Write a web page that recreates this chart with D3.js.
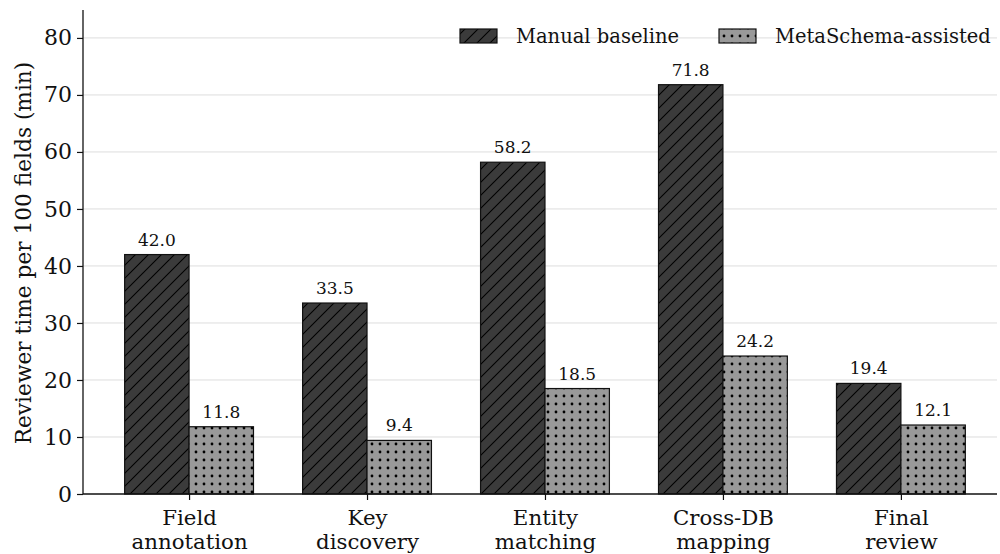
<!DOCTYPE html>
<html lang="en">
<head>
<meta charset="utf-8">
<script src="https://d3js.org/d3.v7.min.js"></script>
<style>
  body { margin: 0; background: #fff; }
  text { font-family: "DejaVu Serif", serif; fill: #111; }
</style>
</head>
<body>
<div id="chart"></div>
<script>
// data
const categories = [["Field", "annotation"], ["Key", "discovery"], ["Entity", "matching"], ["Cross-DB", "mapping"], ["Final", "review"]];
const manual = [42.0, 33.5, 58.2, 71.8, 19.4];
const assisted = [11.8, 9.4, 18.5, 24.2, 12.1];
const yTicks = [0, 10, 20, 30, 40, 50, 60, 70, 80];
const seriesNames = ["Manual baseline", "MetaSchema-assisted"];

const width = 1000, height = 554;
const margin = {left: 83, right: 3, top: 10, bottom: 60};

const svg = d3.select("#chart").append("svg")
    .attr("width", width)
    .attr("height", height);

const defs = svg.append("defs");
// diagonal hatch
const hatch = defs.append("pattern")
    .attr("id", "hatch")
    .attr("patternUnits", "userSpaceOnUse")
    .attr("width", 13).attr("height", 13);
hatch.append("rect").attr("width", 13).attr("height", 13).attr("fill", "#3b3b3b");
hatch.append("path")
    .attr("d", "M-3,3 L3,-3 M0,13 L13,0 M10,16 L16,10")
    .attr("stroke", "#000").attr("stroke-width", 1.1);
// dots
const dots = defs.append("pattern")
    .attr("id", "dots")
    .attr("patternUnits", "userSpaceOnUse")
    .attr("width", 8).attr("height", 8);
dots.append("rect").attr("width", 8).attr("height", 8).attr("fill", "#999999");
dots.append("circle").attr("cx", 4).attr("cy", 4).attr("r", 1.4).attr("fill", "#000");

const y = d3.scaleLinear().domain([0, 84.9]).range([height - margin.bottom, margin.top]);
const x = d3.scaleLinear().domain([-0.596, 4.54]).range([margin.left, width - margin.right]);
const barW = 0.362;

// grid
svg.append("g").selectAll("line").data(yTicks.slice(1)).join("line")
    .attr("x1", margin.left).attr("x2", width - margin.right)
    .attr("y1", d => y(d)).attr("y2", d => y(d))
    .attr("stroke", "#dddddd").attr("stroke-width", 1);

const series = [
  {name: seriesNames[0], values: manual, fill: "url(#hatch)", off: -barW},
  {name: seriesNames[1], values: assisted, fill: "url(#dots)", off: 0}
];

series.forEach(s => {
  const g = svg.append("g");
  g.selectAll("rect").data(s.values).join("rect")
      .attr("x", (d, i) => x(i + s.off))
      .attr("width", x(barW) - x(0))
      .attr("y", d => y(d))
      .attr("height", d => y(0) - y(d))
      .attr("fill", s.fill)
      .attr("stroke", "#111").attr("stroke-width", 1.2);
  g.selectAll("text").data(s.values).join("text")
      .attr("x", (d, i) => x(i + s.off + barW / 2))
      .attr("y", d => y(d) - 9)
      .attr("text-anchor", "middle")
      .attr("font-size", 17)
      .text(d => d.toFixed(1));
});

// y axis
const yAxis = svg.append("g")
    .attr("transform", `translate(${margin.left},0)`)
    .call(d3.axisLeft(y).tickValues(yTicks).tickSize(6).tickPadding(5));
yAxis.select(".domain").attr("d", `M0,${y(0)}V${margin.top}`).attr("stroke", "#111").attr("stroke-width", 1.3);
yAxis.selectAll(".tick line").attr("stroke", "#111").attr("stroke-width", 1.2);
yAxis.selectAll(".tick text").attr("font-size", 22).attr("font-family", "DejaVu Serif").attr("fill", "#111");

// x axis
const xAxis = svg.append("g")
    .attr("transform", `translate(0,${y(0)})`)
    .call(d3.axisBottom(x).tickValues(d3.range(categories.length)).tickSize(6).tickFormat(""));
xAxis.select(".domain").attr("d", `M${margin.left},0H${width - margin.right}`).attr("stroke", "#111").attr("stroke-width", 1.3);
xAxis.selectAll(".tick line").attr("stroke", "#111").attr("stroke-width", 1.2);
xAxis.selectAll(".tick").append("text")
    .attr("text-anchor", "middle")
    .attr("font-size", 21.3)
    .attr("font-family", "DejaVu Serif")
    .attr("fill", "#111")
    .selectAll("tspan").data((d, i) => categories[i]).join("tspan")
    .attr("x", 0)
    .attr("y", (d, j) => 31 + j * 24)
    .text(d => d);

// y label
svg.append("text")
    .attr("transform", `translate(31,253) rotate(-90)`)
    .attr("text-anchor", "middle")
    .attr("font-size", 21.7)
    .text("Reviewer time per 100 fields (min)");

// legend
const legendX = [460, 719];
const legend = svg.append("g");
series.forEach((s, i) => {
  legend.append("rect")
      .attr("x", legendX[i]).attr("y", 29)
      .attr("width", 37).attr("height", 14)
      .attr("fill", s.fill)
      .attr("stroke", "#111").attr("stroke-width", 1.2);
  legend.append("text")
      .attr("x", legendX[i] + 56).attr("y", 43)
      .attr("font-size", 19.5)
      .text(s.name);
});
</script>
</body>
</html>
